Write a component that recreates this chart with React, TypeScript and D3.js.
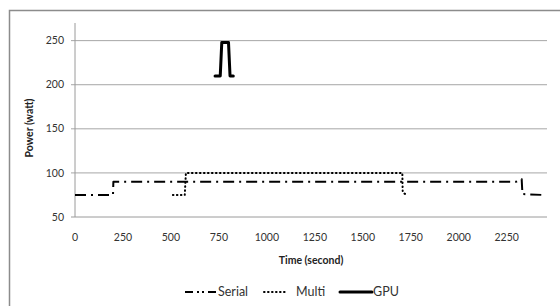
import React from 'react';
import * as d3 from 'd3';

// Serial run
const serialTime = [0, 198, 200, 2300, 2328, 2332, 2440];
const serialPower = [75, 75, 90, 90, 93, 76, 75];

// Multi-core run
const multiTime = [510, 572, 578, 1706, 1708, 1728];
const multiPower = [75, 75, 100, 100, 78, 75];

// GPU run
const gpuTime = [730, 757, 765, 800, 808, 825];
const gpuPower = [210, 210, 248, 248, 210, 210];

const xTicks = [0, 250, 500, 750, 1000, 1250, 1500, 1750, 2000, 2250];
const yTicks = [50, 100, 150, 200, 250];

const W = 560;
const H = 306;
const margin = { top: 23, left: 75, right: 13, bottom: 89 };
const font = "Lato, 'Open Sans', sans-serif";

type Pt = { t: number; p: number };
const toPts = (t: number[], p: number[]): Pt[] => t.map((v, i) => ({ t: v, p: p[i] }));

const App: React.FC = () => {
  const x = d3.scaleLinear().domain([0, 2460]).range([margin.left, W - margin.right]);
  const y = d3.scaleLinear().domain([50, 270]).range([H - margin.bottom, margin.top]);

  const line = d3.line<Pt>().x(d => x(d.t)).y(d => y(d.p));

  const series = [
    { name: 'Serial', pts: toPts(serialTime, serialPower), dash: '11 5 2 5', width: 2, cap: 'butt' },
    { name: 'Multi', pts: toPts(multiTime, multiPower), dash: '0.6 3.4', width: 2, cap: 'round' },
    { name: 'GPU', pts: toPts(gpuTime, gpuPower), dash: '', width: 3, cap: 'round' },
  ];

  const legend = [
    { name: 'Serial', x1: 185, x2: 217, tx: 218 },
    { name: 'Multi', x1: 264, x2: 288, tx: 296 },
    { name: 'GPU', x1: 340, x2: 372, tx: 373 },
  ];

  return (
    <div style={{ position: 'fixed', left: 0, top: 0 }}>
      <svg width={W} height={H} style={{ display: 'block', background: '#fff' }}>
        {/* chart border */}
        <rect x={9.5} y={10.5} width={W + 10} height={H + 10} fill="none" stroke="#8c8c8c" strokeWidth={1.5} />

        {/* gridlines */}
        {yTicks.map(v => (
          <line key={v} x1={margin.left - 4} x2={W - margin.right} y1={y(v)} y2={y(v)}
            stroke={v === 50 ? '#9a9a9a' : '#a6a6a6'} strokeWidth={1} />
        ))}
        <line x1={margin.left} x2={margin.left} y1={margin.top} y2={y(50)} stroke="#9a9a9a" strokeWidth={1} />

        {/* y tick labels */}
        {yTicks.map(v => (
          <text key={v} x={64} y={y(v)} dy="0.35em" textAnchor="end" fontFamily={font} fontSize={10.5} fill="#333">{v}</text>
        ))}
        {/* x tick labels */}
        {xTicks.map(v => (
          <text key={v} x={x(v)} y={237} dy="0.35em" textAnchor="middle" fontFamily={font} fontSize={10.5} fill="#333">{v}</text>
        ))}

        {/* axis titles */}
        <text transform={`translate(33,${(margin.top + y(50)) / 2 + 8}) rotate(-90)`} textAnchor="middle"
          fontFamily={font} fontSize={10.5} fontWeight="bold" fill="#222">Power (watt)</text>
        <text x={311} y={260} dy="0.35em" textAnchor="middle" fontFamily={font} fontSize={10.5} fontWeight="bold" fill="#222">Time (second)</text>

        {/* series */}
        {series.map(s => (
          <path key={s.name} d={line(s.pts) || ''} fill="none" stroke="#000" strokeWidth={s.width}
            strokeDasharray={s.dash || undefined} strokeLinecap={s.cap as any} strokeLinejoin="round" />
        ))}

        {/* legend */}
        {legend.map((l, i) => (
          <g key={l.name}>
            <line x1={l.x1} x2={l.x2} y1={292} y2={292} stroke="#000" strokeWidth={series[i].width}
              strokeLinecap={series[i].cap as any}
              strokeDasharray={i === 0 ? '8 4 2 3 2 4' : series[i].dash || undefined} />
            <text x={l.tx} y={292} dy="0.35em" fontFamily={font} fontSize={12.5} fill="#333">{l.name}</text>
          </g>
        ))}
      </svg>
    </div>
  );
};

export default App;
